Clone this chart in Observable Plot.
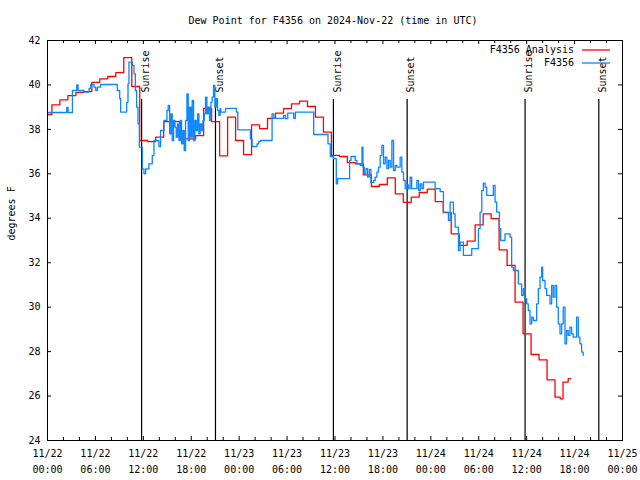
<!DOCTYPE html>
<html><head><meta charset="utf-8">
<script src="https://cdn.jsdelivr.net/npm/d3@7"></script>
<script src="https://cdn.jsdelivr.net/npm/@observablehq/plot@0.6"></script>
<style>
body{margin:0;background:#fff;}
#title{height:30px;position:relative;font:10px "DejaVu Sans Mono",monospace;line-height:10px;color:#000;}
#title span{position:absolute;left:333px;top:16px;transform:translateX(-50%);white-space:pre;}
</style></head><body>
<div id="title"><span>Dew Point for F4356 on 2024-Nov-22 (time in UTC)</span></div>
<div id="chart"></div>
<script>
// [hours since 2024-11-22 00:00 UTC, dew point °F]
const analysisObs = [
[0,38.67],[0.55,39.1],[1.55,39.33],[2.55,39.52],[3.55,39.67],[4.55,39.7],[5.55,40.12],[6.55,40.27],[7.55,40.38],[8.55,40.55],
[9.55,41.23],[10.55,39.93],[11.55,37.5],[12.55,37.45],[13.55,37.65],[14.55,38.35],[15.55,38.35],[16.55,37.57],[17.55,37.57],[18.55,37.72],
[19.55,38.95],[20.55,38.35],[21.55,36.81],[22.55,38.55],[23.55,37.5],[24.55,36.86],[25.55,38.2],[26.55,38.03],[27.55,38.5],[28.55,38.73],
[29.55,38.93],[30.55,39.15],[31.55,39.27],[32.55,39.03],[33.55,38.55],[34.55,37.88],[35.55,36.83],[36.55,36.78],[37.55,36.5],[38.55,36.45],
[39.55,35.95],[40.55,35.43],[41.55,35.52],[42.55,35.82],[43.55,35.1],[44.55,34.72],[45.55,34.95],[46.55,35.16],[47.55,35.31],[48.55,34.75],
[49.55,34.25],[50.55,33.3],[51.55,32.78],[52.55,32.97],[53.55,33.7],[54.55,34.2],[55.55,33.98],[56.55,32.58],[57.55,31.88],[58.55,30.23],
[59.55,28.8],[60.55,27.87],[61.55,27.63],[62.55,26.73],[63.55,25.95],[64.2,25.87],[64.55,26.63],[65.2,26.78],[65.5,26.78]
];
const stationObs = [
[0,38.76],[2.41,38.99],[2.58,38.76],[3.12,39.75],[3.66,40.0],[3.83,39.75],[4.58,39.68],[5.2,39.83],[5.41,40.02],[5.83,39.9],
[6.04,39.75],[6.24,39.9],[6.66,40.02],[8.74,39.75],[9.04,39.38],[9.16,38.78],[9.91,39.22],[10.08,40.05],[10.2,41.03],[10.62,40.88],
[10.83,40.5],[11.0,39.75],[11.16,39.0],[11.33,38.25],[11.5,37.2],[11.87,36.22],[12.08,36.0],[12.29,36.22],[12.7,36.45],[13.12,36.82],
[13.33,37.5],[13.95,37.23],[14.16,37.95],[14.58,38.4],
[14.79,38.4],[14.96,38.85],[15.12,39.08],[15.29,37.8],[15.46,38.7],[15.62,37.5],[15.79,38.4],[15.96,38.1],[16.12,37.65],[16.29,38.25],
[16.46,37.5],[16.62,38.4],[16.79,37.35],[16.96,37.95],[17.12,37.05],[17.29,38.4],[17.46,39.6],[17.62,37.5],[17.79,39.0],[17.96,37.65],
[18.12,39.3],[18.29,37.5],[18.46,38.4],[18.62,37.95],[18.79,38.7],[18.96,37.8],[19.12,38.25],[19.29,37.95],[19.46,38.4],[19.62,38.7],
[19.79,39.45],[19.96,38.7],[20.12,39.0],[20.29,38.4],[20.46,39.23],[20.62,39.45],[20.79,39.98],[20.96,39.0],[21.12,39.38],[21.29,38.85],
[21.46,38.63],[21.62,38.93],
[21.7,38.78],[22.29,38.93],[22.41,38.95],[23.66,38.78],[23.83,37.98],[25.41,37.57],[25.62,37.23],[26.24,37.35],[26.45,37.45],[26.66,37.5],
[28.12,38.7],[28.33,38.5],[29.58,38.63],[29.79,38.48],[30.08,38.73],[30.83,38.5],[31.04,38.78],[33.33,37.77],[35.12,37.35],[35.41,36.78],
[35.83,36.68],[36.16,35.55],[36.33,35.78],[37.83,36.6],[38.0,36.78],[38.54,36.6],[38.75,36.45],[39.16,36.38],[39.38,37.2],[39.5,36.3],
[39.66,36.0],[39.87,36.23],[40.08,35.85],[40.3,36.2],[40.5,35.6],[40.83,35.7],[41.04,35.85],[41.25,36.08],[41.45,36.3],[41.66,36.82],
[41.87,37.28],[42.08,36.45],[42.29,36.75],[42.5,36.23],[42.7,36.6],[42.91,36.3],[43.12,37.5],[43.33,36.15],[43.54,36.38],[43.75,36.3],
[44.16,36.75],[44.37,36.08],[44.58,35.7],[44.79,35.33],[45.0,35.5],[45.2,35.33],[45.41,35.85],[45.6,35.33],[46.25,35.7],[46.46,35.25],
[46.67,35.55],[46.88,35.33],[47.08,35.63],[48.54,35.33],[49.17,35.2],[49.58,34.28],[50.2,33.9],[50.42,34.73],[50.83,34.2],[51.04,33.6],
[51.46,32.55],[51.67,32.93],[52.08,32.33],[53.12,32.63],[53.96,33.53],[54.17,34.28],[54.38,35.25],[54.58,35.58],[54.8,35.4],[55.0,35.03],
[55.83,35.48],[56.04,34.73],[56.25,34.28],[56.58,33.53],[56.75,33.0],[57.29,33.3],[57.92,33.15],[58.12,31.8],[58.33,31.65],[58.96,31.05],
[59.37,30.53],[59.58,30.83],[59.8,30.38],[60.0,30.15],[60.2,29.85],[60.42,29.25],[60.63,29.55],[60.83,29.4],[61.25,30.15],[61.46,30.83],
[61.67,31.35],[61.88,31.8],[62.0,31.2],[62.3,30.83],[62.5,30.53],[62.92,30.15],[63.13,30.98],[63.33,30.45],[63.54,30.98],[63.75,30.0],
[63.96,29.25],[64.17,28.8],[64.38,29.25],[64.58,30.0],[64.8,28.35],[65.0,28.95],[65.2,28.73],[65.42,29.1],[65.63,28.8],[65.83,28.65],
[66.25,29.55],[66.46,28.65],[66.67,28.35],[66.88,27.98],[67.08,27.83]
];
const sunEvents = [
  {time: "2024-11-22T11:47Z", label: "Sunrise"},
  {time: "2024-11-22T21:02Z", label: "Sunset"},
  {time: "2024-11-23T11:48Z", label: "Sunrise"},
  {time: "2024-11-23T21:02Z", label: "Sunset"},
  {time: "2024-11-24T11:48Z", label: "Sunrise"},
  {time: "2024-11-24T21:02Z", label: "Sunset"}
];
const xTickLabels = ["11/22\n00:00","11/22\n06:00","11/22\n12:00","11/22\n18:00","11/23\n00:00","11/23\n06:00","11/23\n12:00","11/23\n18:00","11/24\n00:00","11/24\n06:00","11/24\n12:00","11/24\n18:00","11/25\n00:00"];
const yTicks = [24,26,28,30,32,34,36,38,40,42];
const seriesNames = ["F4356 Analysis", "F4356"];
const seriesColors = ["#ff0000", "#0a86ff"];

const t0 = Date.UTC(2024, 10, 22);
const toDate = h => new Date(t0 + h * 3600e3);
const analysis = analysisObs.map(([h, v]) => ({t: toDate(h), v}));
const station = stationObs.map(([h, v]) => ({t: toDate(h), v}));
const events = sunEvents.map(d => ({t: new Date(d.time), label: d.label}));
const xMajor = d3.utcHour.every(6).range(toDate(0), toDate(72.01));
const xMinor = d3.utcHour.every(2).range(toDate(0), toDate(72.01)).filter(d => d.getUTCHours() % 6 !== 0);

const W = 640, H = 450, mT = 10, mB = 40, mL = 47, mR = 18;
const pw = W - mL - mR, ph = H - mT - mB;
const font = "DejaVu Sans Mono";

const svg = Plot.plot({
  width: W, height: H,
  marginTop: mT, marginBottom: mB, marginLeft: mL, marginRight: mR,
  style: {fontFamily: font, fontSize: "10px", background: "#fff", color: "#000"},
  x: {type: "utc", domain: [toDate(0), toDate(72)]},
  y: {domain: [24, 42]},
  marks: [
    Plot.ruleX(events, {x: "t", insetTop: 59, stroke: "#000", strokeWidth: 1.2}),
    Plot.text(events, {x: "t", text: "label", frameAnchor: "top", dy: 52, dx: 0, rotate: -90, textAnchor: "start", fill: "#000"}),
    Plot.line(analysis, {x: "t", y: "v", stroke: seriesColors[0], strokeWidth: 1.3, curve: "step-after"}),
    Plot.line(station, {x: "t", y: "v", stroke: seriesColors[1], strokeWidth: 1.3, curve: "step-after"}),
    Plot.frame({stroke: "#000"}),
    Plot.tickX(xMajor, {x: d => d, insetTop: ph - 4, stroke: "#000"}),
    Plot.tickX(xMajor, {x: d => d, insetBottom: ph - 4, stroke: "#000"}),
    Plot.tickX(xMinor, {x: d => d, insetTop: ph - 3, stroke: "#000"}),
    Plot.tickX(xMinor, {x: d => d, insetBottom: ph - 3, stroke: "#000"}),
    Plot.tickY(yTicks, {y: d => d, insetRight: pw - 4, stroke: "#000"}),
    Plot.tickY(yTicks, {y: d => d, insetLeft: pw - 4, stroke: "#000"}),
    Plot.axisX({ticks: xMajor, tickSize: 0, tickPadding: 5, lineHeight: 1.6, label: null,
      tickFormat: d => xTickLabels[Math.round((d - t0) / 216e5)]}),
    Plot.axisY({ticks: yTicks, tickSize: 0, tickPadding: 7, label: null}),
    Plot.text(["degrees F"], {frameAnchor: "left", dx: -36, rotate: -90, fill: "#000"})
  ]
});

// legend (top right, inside the frame)
const lg = d3.select(svg).append("g").attr("font-family", font).attr("font-size", 10);
seriesNames.forEach((name, i) => {
  const y = 20 + i * 13;
  lg.append("text").attr("x", 574).attr("y", y).attr("dy", "0.32em").attr("text-anchor", "end").attr("fill", "#000").text(name);
  lg.append("line").attr("x1", 582).attr("x2", 610).attr("y1", y).attr("y2", y).attr("stroke", seriesColors[i]).attr("stroke-width", 1.3);
});

document.getElementById("chart").appendChild(svg);
</script>
</body></html>
